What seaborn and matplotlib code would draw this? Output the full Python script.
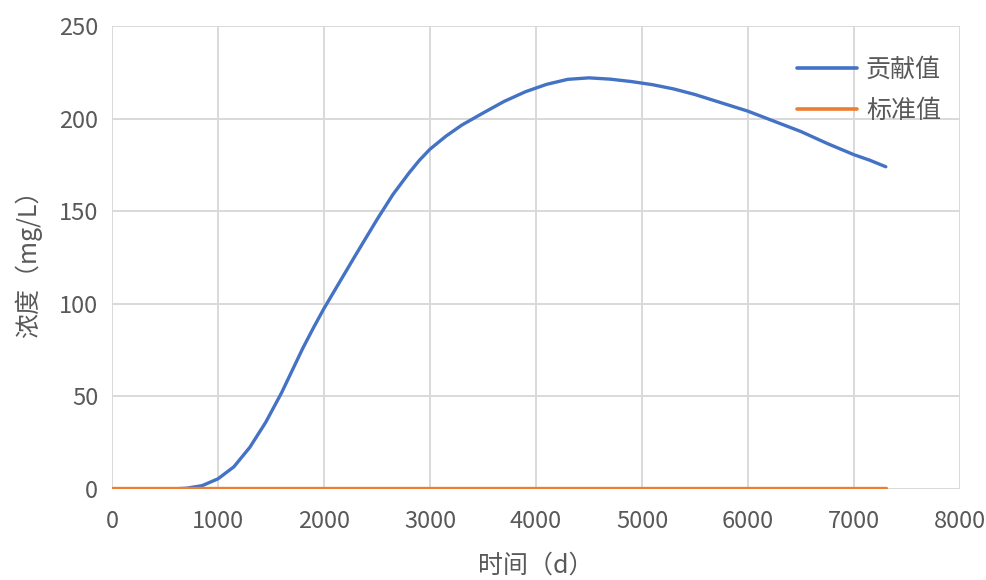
import numpy as np
import pandas as pd
import matplotlib
matplotlib.use('Agg')
import matplotlib.pyplot as plt
import seaborn as sns

# Datos
t_contrib = [0, 300, 600, 700, 850, 1000, 1150, 1300, 1450, 1600, 1700, 1800,
             1900, 2000, 2150, 2300, 2500, 2650, 2800, 2900, 3000, 3150, 3300,
             3500, 3700, 3900, 4100, 4300, 4500, 4700, 4900, 5100, 5300, 5500,
             5750, 6000, 6250, 6500, 6750, 7000, 7150, 7300]
c_contrib = [0, 0, 0.1, 0.4, 1.8, 5.5, 12, 22.5, 36, 52, 64, 76,
             87, 97.5, 112, 126.5, 145.5, 159, 170.5, 177.5, 183.5, 190.5, 196.5,
             203, 209.3, 214.5, 218.5, 221.2, 222, 221.3, 220, 218.3, 216, 213,
             208.5, 204, 198.5, 193, 186.5, 180.5, 177.5, 174]
t_std = [0, 7300]
c_std = [0.5, 0.5]

label_contrib = '贡献值'
label_std = '标准值'

df = pd.concat([
    pd.DataFrame({'t': t_contrib, 'c': c_contrib, 'serie': label_contrib}),
    pd.DataFrame({'t': t_std, 'c': c_std, 'serie': label_std}),
], ignore_index=True)

sns.set_theme(style='whitegrid')
plt.rcParams['font.family'] = ['Noto Sans CJK SC', 'DejaVu Sans']
plt.rcParams['axes.unicode_minus'] = False

fig = plt.figure(figsize=(9.87, 5.8), dpi=100)
ax = fig.add_axes([112 / 987, 1 - 489 / 580, (960 - 112) / 987, (489 - 26) / 580])

sns.lineplot(data=df, x='t', y='c', hue='serie',
             palette={label_contrib: '#4472C4', label_std: '#ED7D31'},
             estimator=None, linewidth=2.4, ax=ax, legend=True)

ax.set_xlim(0, 8000)
ax.set_ylim(0, 250)
ax.set_xticks(np.arange(0, 8001, 1000))
ax.set_yticks(np.arange(0, 251, 50))
ax.grid(True, color='#D9D9D9', linewidth=1.4)
for s in ax.spines.values():
    s.set_visible(False)
ax.tick_params(axis='x', length=0, labelsize=17, colors='#595959', pad=15)
ax.tick_params(axis='y', length=7, width=1.4, color='#D9D9D9',
               labelsize=17, labelcolor='#595959', pad=3)

ax.set_xlabel('时间（d）', fontsize=18, color='#595959', labelpad=14)
ax.set_ylabel('浓度（mg/L）', fontsize=18, color='#595959', labelpad=12)

leg = ax.legend(loc='upper left', bbox_to_anchor=(797 / 987, 1 - 57 / 580),
                bbox_transform=fig.transFigure, frameon=False, fontsize=18,
                handlelength=2.4, handletextpad=0.36, labelspacing=0.6,
                borderpad=0, borderaxespad=0)
for txt in leg.get_texts():
    txt.set_color('#595959')
for ln in leg.get_lines():
    ln.set_linewidth(2.6)

fig.savefig('out.png', dpi=100)
